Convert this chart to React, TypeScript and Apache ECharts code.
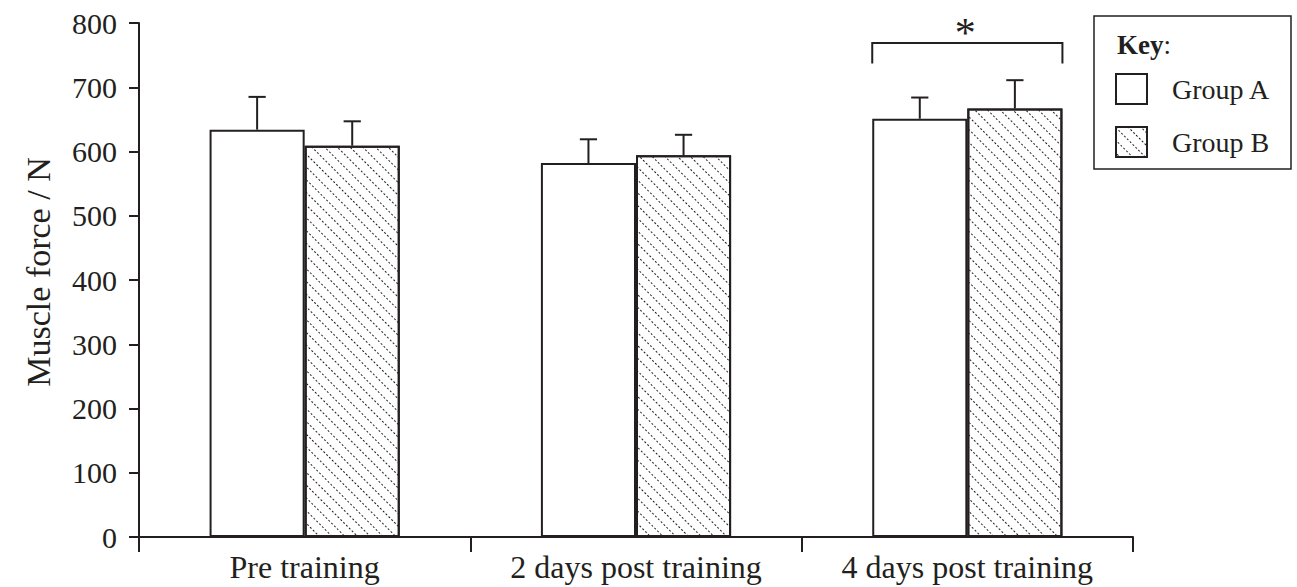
import React, { useEffect, useRef } from "react";
import * as echarts from "echarts";

const categories = ["Pre training", "2 days post training", "4 days post training"];
const seriesNames = ["Group A", "Group B"];
const groupA = [634, 582, 651];
const groupAErr = [51, 37, 33];
const groupB = [609, 594, 667];
const groupBErr = [38, 32, 44];
const yMin = 0;
const yMax = 800;
const yInterval = 100;
const yAxisName = "Muscle force / N";
// significance bracket: [category index, bracket level, bracket end level]
const significance = [[2, 769, 737]];
const significanceLabel = "*";

const INK = "#231f20";
const FONT = "'Liberation Serif', 'Times New Roman', serif";
const BAR_FRAC = 0.287;

export default function App() {
  const ref = useRef<HTMLDivElement>(null);
  useEffect(() => {
    if (!ref.current) return;
    const chart = echarts.init(ref.current, null, { renderer: "svg" });

    const errData: number[][] = [];
    groupA.forEach((v, i) => errData.push([i, v, groupAErr[i], -1]));
    groupB.forEach((v, i) => errData.push([i, v, groupBErr[i], 1]));

    const hatch = {
      symbol: "rect",
      symbolSize: 1,
      color: INK,
      backgroundColor: "#ffffff",
      dashArrayX: [1.5, 1.8],
      dashArrayY: [1, 8],
      rotation: Math.PI / 4,
    };

    chart.setOption({
      animation: false,
      backgroundColor: "#ffffff",
      grid: { left: 139, right: 164, top: 23, bottom: 50, containLabel: false },
      xAxis: {
        type: "category",
        data: categories,
        axisLine: { lineStyle: { color: INK, width: 2 } },
        axisTick: { show: true, length: 15, lineStyle: { color: INK, width: 2 } },
        axisLabel: { color: INK, fontFamily: FONT, fontSize: 32, margin: 14, interval: 0 },
      },
      yAxis: {
        type: "value",
        min: yMin,
        max: yMax,
        interval: yInterval,
        name: yAxisName,
        nameLocation: "middle",
        nameGap: 84,
        nameTextStyle: { color: INK, fontFamily: FONT, fontSize: 34, padding: [0, 0, 0, 16] },
        splitLine: { show: false },
        axisLine: { show: true, lineStyle: { color: INK, width: 2 } },
        axisTick: { show: true, length: 10, lineStyle: { color: INK, width: 2 } },
        axisLabel: { color: INK, fontFamily: FONT, fontSize: 30, margin: 22 },
      },
      legend: {
        data: seriesNames,
        orient: "vertical",
        left: 1110,
        top: 68,
        itemWidth: 31,
        itemHeight: 30,
        itemGap: 21,
        icon: "rect",
        textStyle: { color: INK, fontFamily: FONT, fontSize: 28, padding: [0, 0, 0, 20] },
      },
      graphic: [
        {
          type: "rect",
          shape: { x: 1094, y: 16, width: 197, height: 153 },
          style: { fill: "none", stroke: INK, lineWidth: 1.5 },
          silent: true,
        },
        {
          type: "text",
          x: 1117,
          y: 45,
          style: {
            text: "{b|Key}:",
            rich: { b: { fontWeight: "bold", fontFamily: FONT, fontSize: 27, fill: INK } },
            fontFamily: FONT,
            fontSize: 27,
            fill: INK,
            verticalAlign: "middle",
          },
          silent: true,
        },
      ],
      series: [
        {
          name: seriesNames[0],
          type: "bar",
          data: groupA,
          barWidth: `${BAR_FRAC * 100}%`,
          barGap: "0%",
          itemStyle: { color: "#ffffff", borderColor: INK, borderWidth: 2 },
        },
        {
          name: seriesNames[1],
          type: "bar",
          data: groupB,
          barWidth: `${BAR_FRAC * 100}%`,
          barGap: "0%",
          itemStyle: { color: "#ffffff", borderColor: INK, borderWidth: 2, decal: hatch },
        },
        {
          type: "custom",
          data: errData,
          encode: { x: 0, y: 1 },
          z: 5,
          silent: true,
          renderItem: (params: any, api: any) => {
            const cat = api.value(0);
            const v = api.value(1);
            const e = api.value(2);
            const side = api.value(3);
            const base = api.coord([cat, v]);
            const top = api.coord([cat, v + e]);
            const band = api.size([1, 0])[0];
            const x = base[0] + (side * band * BAR_FRAC) / 2;
            const cap = band * 0.026;
            return {
              type: "group",
              children: [
                { type: "line", shape: { x1: x, y1: base[1], x2: x, y2: top[1] }, style: { stroke: INK, lineWidth: 2 } },
                { type: "line", shape: { x1: x - cap, y1: top[1], x2: x + cap, y2: top[1] }, style: { stroke: INK, lineWidth: 2 } },
              ],
            };
          },
        },
        {
          type: "custom",
          data: significance,
          encode: { x: 0, y: 1 },
          z: 5,
          silent: true,
          renderItem: (params: any, api: any) => {
            const cat = api.value(0);
            const topP = api.coord([cat, api.value(1)]);
            const endP = api.coord([cat, api.value(2)]);
            const band = api.size([1, 0])[0];
            const l = topP[0] - band * BAR_FRAC;
            const r = topP[0] + band * BAR_FRAC;
            const fs = 42;
            return {
              type: "group",
              children: [
                {
                  type: "polyline",
                  shape: { points: [[l, endP[1]], [l, topP[1]], [r, topP[1]], [r, endP[1]]] },
                  style: { stroke: INK, lineWidth: 2, fill: "none" },
                },
                {
                  type: "text",
                  x: topP[0] - 2,
                  y: topP[1] - 0.24 * fs,
                  style: { text: significanceLabel, fontFamily: FONT, fontSize: fs, fill: INK, align: "center", verticalAlign: "middle" },
                },
              ],
            };
          },
        },
      ],
    });
    return () => chart.dispose();
  }, []);
  return <div ref={ref} style={{ position: "fixed", left: 0, top: 0, width: 1297, height: 587 }} />;
}
